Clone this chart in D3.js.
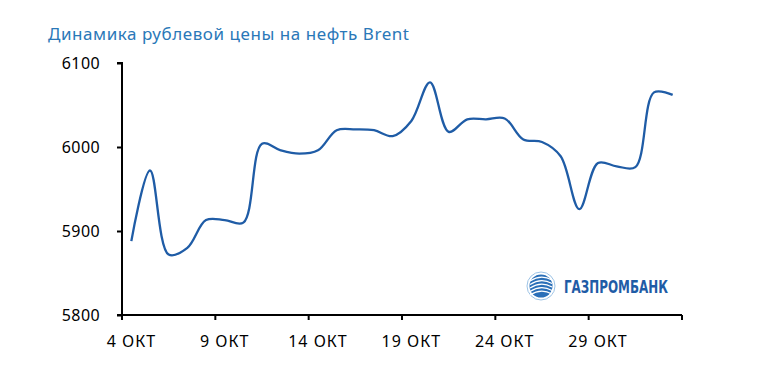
<!DOCTYPE html>
<html>
<head>
<meta charset="utf-8">
<script src="https://cdn.jsdelivr.net/npm/d3@7"></script>
<style>
  body { margin: 0; background: #fff; }
  .chart text { font-family: "Noto Sans", sans-serif; }
</style>
</head>
<body>
<div class="chart"></div>
<script>
// chart data
var days = ["4", "5", "6", "7", "8", "9", "10", "11", "12", "13", "14", "15", "16", "17", "18",
  "19", "20", "21", "22", "23", "24", "25", "26", "27", "28", "29", "30", "31", "1", "2"];
var prices = [5888, 5972, 5872, 5880, 5913, 5913, 5910, 6004, 5996, 5992, 5996, 6020, 6021, 6020, 6013,
  6031, 6077, 6018, 6033, 6033, 6034, 6009, 6006, 5989, 5926, 5981, 5977, 5976, 6065, 6062];
var labeledDays = ["4", "9", "14", "19", "24", "29"];
var yTicks = [5800, 5900, 6000, 6100];

var svgWidth = 774;
var svgHeight = 365;

var margin = { top: 63, right: 92, bottom: 50, left: 122 };
var width = svgWidth - margin.left - margin.right;
var height = svgHeight - margin.top - margin.bottom;

var svg = d3.select(".chart")
  .append("svg")
  .attr("width", svgWidth)
  .attr("height", svgHeight);

// title
svg.append("text")
  .attr("x", 48)
  .attr("y", 40)
  .attr("fill", "#2a78b8")
  .style("font-size", "17px")
  .style("letter-spacing", "0.55px")
  .text("Динамика рублевой цены на нефть Brent");

var chartGroup = svg.append("g")
  .attr("transform", `translate(${margin.left}, ${margin.top})`);

// category scale, one band per day
var xBand = d3.scaleBand()
  .domain(d3.range(days.length))
  .range([0, width]);

var yScale = d3.scaleLinear()
  .domain([5800, 6100])
  .range([height, 0]);

// y axis
var leftAxis = d3.axisLeft(yScale)
  .tickValues(yTicks)
  .tickSize(5)
  .tickPadding(17)
  .tickFormat(d3.format("d"));

var yAxis = chartGroup.append("g").call(leftAxis);
yAxis.select(".domain").attr("d", `M-5,0H0V${height}`);

// x axis: ticks on band boundaries every 5 days, labels at band centres
var xAxis = chartGroup.append("g")
  .attr("transform", `translate(0, ${height})`);

xAxis.append("line")
  .attr("x1", -5).attr("x2", width)
  .attr("stroke", "#000");

var tickIdx = d3.range(0, days.length + 1, 5);
xAxis.selectAll(".xtick")
  .data(tickIdx)
  .enter()
  .append("line")
  .attr("class", "xtick")
  .attr("x1", d => d < days.length ? xBand(d) : width)
  .attr("x2", d => d < days.length ? xBand(d) : width)
  .attr("y1", 0)
  .attr("y2", 5)
  .attr("stroke", "#000");

xAxis.selectAll(".xlabel")
  .data(labeledDays)
  .enter()
  .append("text")
  .attr("class", "xlabel")
  .attr("x", d => xBand(days.indexOf(d)) + xBand.bandwidth() / 2)
  .attr("y", 32)
  .attr("text-anchor", "middle")
  .attr("fill", "#000")
  .style("font-size", "16px")
  .style("letter-spacing", "1px")
  .text(d => d + " ОКТ");

chartGroup.selectAll(".domain, .tick line")
  .attr("stroke", "#000")
  .attr("stroke-width", 2);
xAxis.selectAll("line").attr("stroke-width", 2);
yAxis.selectAll("text")
  .attr("fill", "#000")
  .style("font-size", "16px")
  .style("letter-spacing", "0.4px");

// price line
var line = d3.line()
  .x((d, i) => xBand(i) + xBand.bandwidth() / 2)
  .y(d => yScale(d))
  .curve(d3.curveCatmullRom.alpha(0.5));

chartGroup.append("path")
  .datum(prices)
  .attr("fill", "none")
  .attr("stroke", "#1f5ca6")
  .attr("stroke-width", 2.3)
  .attr("d", line);

// logo
var logo = svg.append("g").attr("transform", "translate(541, 286)");
logo.append("circle")
  .attr("r", 14)
  .attr("fill", "#fff")
  .attr("stroke", "#9cc3e6")
  .attr("stroke-width", 1);
logo.append("circle")
  .attr("r", 11.5)
  .attr("fill", "#2a6fb8");
[-7, -3.5, 0, 3.5, 7].forEach(function(off) {
  logo.append("path")
    .attr("d", `M-11,${off + 2} Q0,${off - 5} 11,${off + 1}`)
    .attr("fill", "none")
    .attr("stroke", "#fff")
    .attr("stroke-width", 1.2);
});
svg.append("text")
  .attr("x", 564)
  .attr("y", 293)
  .attr("fill", "#1f5ca6")
  .style("font-family", "'DejaVu Sans Condensed', 'Liberation Sans Narrow', sans-serif")
  .style("font-weight", "bold")
  .style("font-size", "17px")
  .attr("textLength", 104)
  .attr("lengthAdjust", "spacingAndGlyphs")
  .text("ГАЗПРОМБАНК");
</script>
</body>
</html>
